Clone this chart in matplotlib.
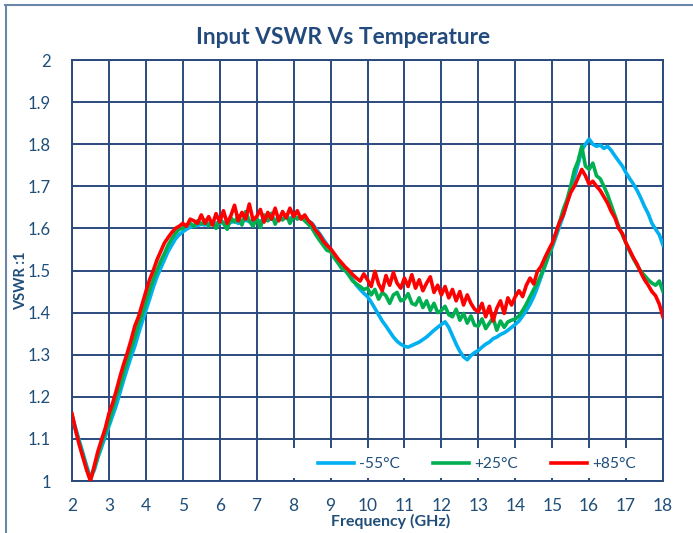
import numpy as np
import matplotlib
matplotlib.use("Agg")
import matplotlib.pyplot as plt
from matplotlib.lines import Line2D
from matplotlib.patches import Rectangle

# ---------------- data ----------------
freq_ghz = np.round(np.linspace(2.0, 18.0, 161), 1)

vswr_m55 = [
    1.155, 1.125, 1.095, 1.065, 1.035, 1.008, 1.025, 1.055, 1.080, 1.105,
    1.130, 1.155, 1.180, 1.210, 1.240, 1.268, 1.295, 1.320, 1.350, 1.378,
    1.405, 1.432, 1.460, 1.485, 1.505, 1.525, 1.545, 1.560, 1.575, 1.585,
    1.592, 1.598, 1.603, 1.605, 1.607, 1.610, 1.608, 1.612, 1.610, 1.613,
    1.612, 1.615, 1.610, 1.614, 1.618, 1.612, 1.615, 1.620, 1.616, 1.618,
    1.620, 1.617, 1.622, 1.619, 1.623, 1.620, 1.625, 1.622, 1.626, 1.624,
    1.628, 1.625, 1.627, 1.622, 1.618, 1.612, 1.600, 1.588, 1.575, 1.562,
    1.550, 1.535, 1.522, 1.510, 1.500, 1.490, 1.478, 1.465, 1.455, 1.446,
    1.438, 1.425, 1.410, 1.395, 1.380, 1.368, 1.355, 1.342, 1.332, 1.325,
    1.320, 1.318, 1.322, 1.326, 1.330, 1.336, 1.342, 1.350, 1.358, 1.365,
    1.372, 1.378, 1.365, 1.345, 1.325, 1.308, 1.295, 1.288, 1.298, 1.305,
    1.310, 1.318, 1.325, 1.330, 1.338, 1.342, 1.348, 1.352, 1.358, 1.365,
    1.372, 1.380, 1.392, 1.405, 1.420, 1.438, 1.460, 1.485, 1.510, 1.535,
    1.555, 1.580, 1.605, 1.630, 1.660, 1.690, 1.720, 1.752, 1.785, 1.800,
    1.812, 1.800, 1.795, 1.798, 1.790, 1.795, 1.785, 1.772, 1.760, 1.748,
    1.732, 1.718, 1.705, 1.690, 1.672, 1.652, 1.635, 1.612, 1.598, 1.585,
    1.560,
]

vswr_p25 = [
    1.155, 1.120, 1.090, 1.060, 1.030, 1.005, 1.030, 1.060, 1.090, 1.115,
    1.140, 1.170, 1.200, 1.225, 1.258, 1.285, 1.315, 1.340, 1.372, 1.395,
    1.425, 1.452, 1.478, 1.500, 1.522, 1.540, 1.560, 1.575, 1.588, 1.598,
    1.600, 1.608, 1.612, 1.605, 1.618, 1.610, 1.620, 1.606, 1.615, 1.600,
    1.622, 1.612, 1.598, 1.625, 1.615, 1.630, 1.608, 1.640, 1.618, 1.605,
    1.625, 1.602, 1.632, 1.618, 1.636, 1.610, 1.628, 1.620, 1.632, 1.612,
    1.630, 1.622, 1.628, 1.618, 1.610, 1.600, 1.585, 1.572, 1.560, 1.548,
    1.545, 1.530, 1.518, 1.505, 1.500, 1.488, 1.475, 1.468, 1.462, 1.455,
    1.458, 1.442, 1.455, 1.432, 1.448, 1.440, 1.422, 1.442, 1.448, 1.428,
    1.432, 1.445, 1.422, 1.418, 1.435, 1.412, 1.428, 1.405, 1.422, 1.400,
    1.405, 1.415, 1.395, 1.390, 1.408, 1.382, 1.398, 1.375, 1.392, 1.370,
    1.368, 1.385, 1.362, 1.375, 1.388, 1.358, 1.380, 1.365, 1.378, 1.382,
    1.385, 1.392, 1.405, 1.420, 1.438, 1.455, 1.470, 1.490, 1.510, 1.535,
    1.560, 1.585, 1.615, 1.645, 1.668, 1.700, 1.738, 1.760, 1.795, 1.748,
    1.740, 1.755, 1.725, 1.718, 1.700, 1.680, 1.655, 1.630, 1.605, 1.585,
    1.565, 1.545, 1.528, 1.512, 1.498, 1.488, 1.478, 1.470, 1.465, 1.475,
    1.450,
]

vswr_p85 = [
    1.160, 1.120, 1.085, 1.055, 1.025, 1.000, 1.035, 1.070, 1.098, 1.125,
    1.160, 1.185, 1.215, 1.248, 1.278, 1.305, 1.335, 1.368, 1.390, 1.420,
    1.450, 1.478, 1.500, 1.525, 1.545, 1.565, 1.578, 1.590, 1.600, 1.605,
    1.612, 1.605, 1.622, 1.618, 1.612, 1.632, 1.612, 1.628, 1.608, 1.635,
    1.615, 1.642, 1.612, 1.630, 1.655, 1.618, 1.638, 1.622, 1.658, 1.620,
    1.628, 1.645, 1.615, 1.638, 1.622, 1.648, 1.618, 1.640, 1.625, 1.648,
    1.628, 1.642, 1.622, 1.632, 1.618, 1.610, 1.595, 1.585, 1.570, 1.560,
    1.552, 1.540, 1.528, 1.518, 1.508, 1.500, 1.490, 1.482, 1.475, 1.492,
    1.478, 1.462, 1.498, 1.468, 1.452, 1.488, 1.465, 1.495, 1.470, 1.458,
    1.482, 1.462, 1.490, 1.458, 1.478, 1.452, 1.470, 1.485, 1.448, 1.465,
    1.442, 1.462, 1.435, 1.455, 1.428, 1.450, 1.418, 1.442, 1.422, 1.408,
    1.402, 1.422, 1.390, 1.415, 1.380, 1.410, 1.428, 1.398, 1.435, 1.418,
    1.438, 1.452, 1.438, 1.465, 1.482, 1.468, 1.498, 1.510, 1.530, 1.548,
    1.565, 1.590, 1.615, 1.632, 1.660, 1.685, 1.700, 1.720, 1.740, 1.725,
    1.705, 1.712, 1.700, 1.690, 1.675, 1.660, 1.640, 1.625, 1.600, 1.588,
    1.565, 1.548, 1.530, 1.515, 1.495, 1.478, 1.465, 1.450, 1.440, 1.420,
    1.390,
]

series_labels = ["-55°C", "+25°C", "+85°C"]
x_ticks = list(range(2, 19))
y_ticks = [1, 1.1, 1.2, 1.3, 1.4, 1.5, 1.6, 1.7, 1.8, 1.9, 2]
y_tick_labels = ["1", "1.1", "1.2", "1.3", "1.4", "1.5", "1.6", "1.7", "1.8", "1.9", "2"]

# ---------------- style ----------------
plt.rcParams['font.family'] = ['Lato', 'DejaVu Sans']
W, H = 693, 533
fig = plt.figure(figsize=(W / 100, H / 100), dpi=100)
fig.patch.set_facecolor('white')

grid_c = '#2B4A7C'
text_c = '#1F4E79'
colors = ['#00B0F0', '#00B050', '#FF0000']

ax = fig.add_axes([72 / W, 1 - 481 / H, (663 - 72) / W, (481 - 60) / H])
for vals, c, lab in zip([vswr_m55, vswr_p25, vswr_p85], colors, series_labels):
    ax.plot(freq_ghz, vals, color=c, lw=2.6, label=lab, solid_joinstyle='round', zorder=3)

ax.set_xlim(2, 18)
ax.set_ylim(1, 2)
ax.set_xticks(x_ticks)
ax.set_yticks(y_ticks)
ax.set_yticklabels(y_tick_labels)
ax.grid(True, color=grid_c, lw=1.4)
ax.set_axisbelow(True)
for s in ax.spines.values():
    s.set_color(grid_c)
    s.set_linewidth(1.4)
ax.tick_params(axis='x', length=0, labelsize=12.5, colors=text_c, pad=12)
ax.tick_params(axis='y', length=0, labelsize=12, colors=text_c, pad=15)

# legend background box (hides grid like the reference)
inv = ax.transAxes.inverted()
def px_to_ax(px, py):
    return inv.transform(fig.transFigure.transform((px / W, 1 - py / H)))
(bx0, by0) = px_to_ax(285, 478)
(bx1, by1) = px_to_ax(662, 448)
ax.add_patch(Rectangle((bx0, by0), bx1 - bx0, by1 - by0, transform=ax.transAxes,
                       facecolor='white', edgecolor='none', zorder=1.5))

fig.text(343 / W, 1 - 37 / H, "Input VSWR Vs Temperature", ha='center', va='center',
         fontsize=16.4, fontweight='bold', color='#234A7C')
fig.text(391 / W, 1 - 521 / H, "Frequency (GHz)", ha='center', va='center',
         fontsize=11.5, fontweight='bold', color=text_c)
fig.text(21 / W, 1 - 281 / H, "VSWR :1", ha='center', va='center', rotation=90,
         fontsize=10.5, fontweight='bold', color=text_c)

leg = fig.legend(*ax.get_legend_handles_labels(), loc='center',
                 bbox_to_anchor=(477 / W, 1 - 464 / H), ncol=3, frameon=False,
                 fontsize=11.2, handlelength=2.3, handletextpad=0.33, columnspacing=2.15,
                 borderpad=0.2, labelcolor=text_c)

# figure border (top and left visible)
fig.add_artist(Line2D([5 / W, 1.0], [1 - 4.5 / H, 1 - 4.5 / H], color='#6A86A8', lw=1.5))
fig.add_artist(Line2D([6 / W, 6 / W], [0, 1 - 4.5 / H], color='#6A86A8', lw=1.5))

fig.savefig("out.png", dpi=100, facecolor='white')
